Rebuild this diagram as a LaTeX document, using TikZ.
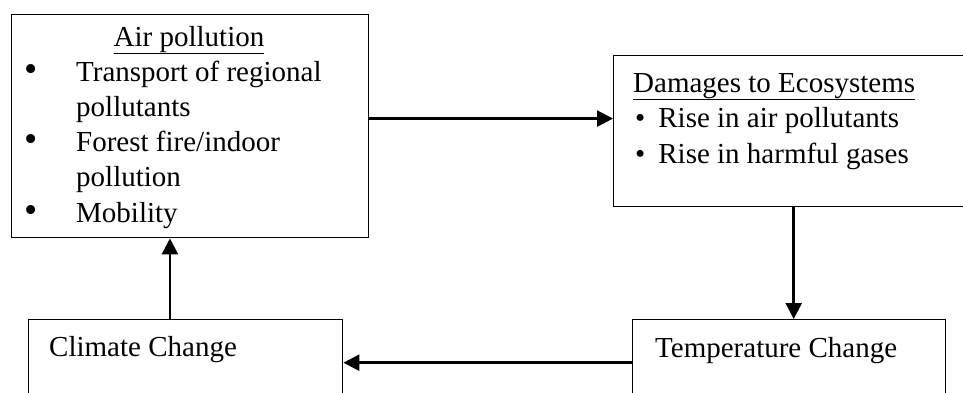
\documentclass[tikz,border=0pt]{standalone}
\usepackage{fontspec}
\setmainfont{Liberation Serif}
\usetikzlibrary{arrows.meta,positioning,calc}

\begin{document}
\begin{tikzpicture}[x=1pt,y=-1pt,
    box/.style={draw, line width=1.4pt, inner sep=0pt, anchor=north west},
    txt/.style={anchor=base west, inner sep=0pt, font=\fontsize{29}{35}\selectfont},
    head/.style={txt, anchor=base},
    arr/.style={line width=2.6pt, -{Triangle[length=16pt,width=16pt]}}]
  \useasboundingbox (0,0) rectangle (963,392);
  % boxes
  \node[box, minimum width=357, minimum height=223] (air) at (11,14) {};
  \node[box, minimum width=360, minimum height=151] (eco) at (613,55) {};
  \node[box, minimum width=314, minimum height=86] (clim) at (28,319) {};
  \node[box, minimum width=313, minimum height=86] (temp) at (632,319) {};
  % air pollution
  \node[head] (airhead) at (189,46) {\underline{Air pollution}};
  \node[txt] (b1) at (24,81) {\scalebox{1.3}{\textbullet}};
  \node[txt] (t1) at (76,81) {Transport of regional};
  \node[txt] (t1b) at (76,116) {pollutants};
  \node[txt] (b2) at (24,151) {\scalebox{1.3}{\textbullet}};
  \node[txt] (t2) at (76,151) {Forest fire/indoor};
  \node[txt] (t2b) at (76,186) {pollution};
  \node[txt] (b3) at (24,222) {\scalebox{1.3}{\textbullet}};
  \node[txt] (t3) at (76,222) {Mobility};
  % damages
  \node[txt] (ecohead) at (633,92) {\underline{Damages to Ecosystems}};
  \node[txt] (e1) at (635,127) {\textbullet\hspace{13pt}Rise in air pollutants};
  \node[txt] (e2) at (635,163) {\textbullet\hspace{13pt}Rise in harmful gases};
  % bottom row
  \node[txt] (climtxt) at (49,356) {Climate Change};
  \node[txt] (temptxt) at (655,357) {Temperature Change};
  % arrows
  \coordinate (airout) at ($(air.north east)!0.466!(air.south east)$);
  \draw[arr] (airout) -- (eco.west |- airout);
  \draw[arr] (eco.south) -- (eco.south |- temp.north);
  \draw[arr] (temp.west) -- (clim.east);
  \coordinate (climout) at ($(clim.north west)!0.45!(clim.north east)$);
  \draw[arr] (climout) -- (climout |- air.south);
\end{tikzpicture}
\end{document}
